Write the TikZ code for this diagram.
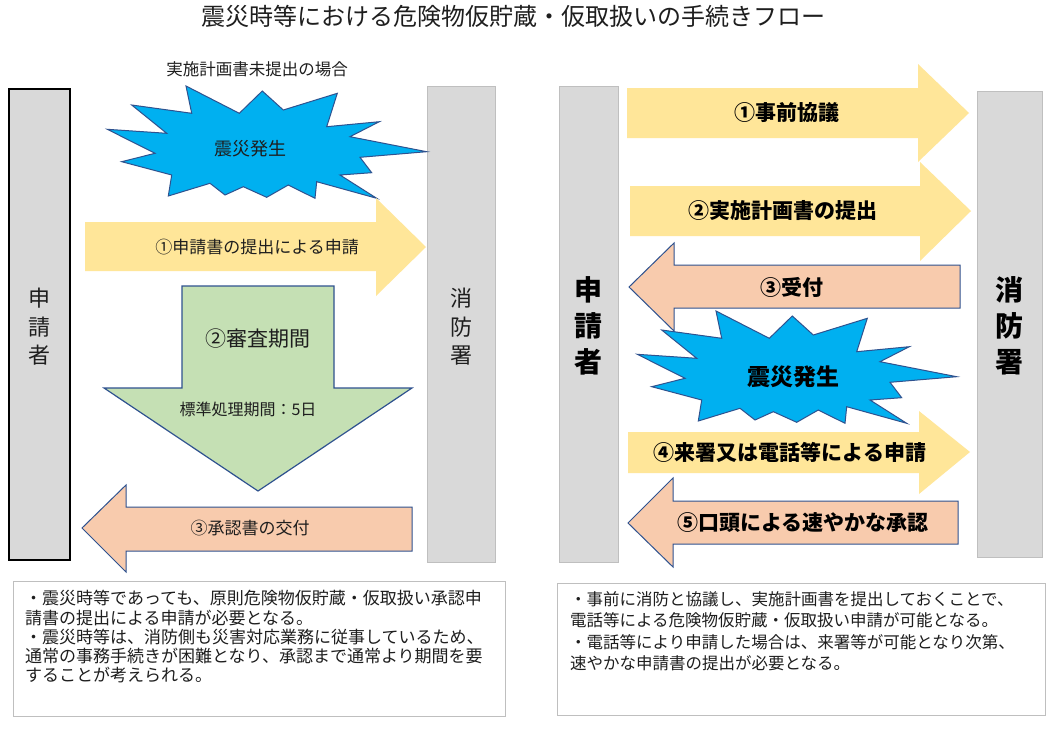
\documentclass[tikz,border=0pt]{standalone}
\usepackage{fontspec}
\newfontfamily\jp{Noto Sans CJK JP}
\definecolor{boxgray}{RGB}{217,217,217}
\definecolor{edgegray}{RGB}{191,191,191}
\definecolor{yel}{RGB}{255,230,153}
\definecolor{ora}{RGB}{248,203,173}
\definecolor{grn}{RGB}{197,224,180}
\definecolor{sky}{RGB}{0,176,240}
\definecolor{navy}{RGB}{47,82,143}
\definecolor{ink}{RGB}{30,30,30}
\begin{document}
\begin{tikzpicture}[x=1pt,y=-1pt,
  fs/.style={font=\jp\fontsize{#1}{#1}\selectfont, text=ink, inner sep=0pt},
  fsb/.style={font=\jp\bfseries\fontsize{#1}{#1}\selectfont, text=black, inner sep=0pt},
  pbox/.style={fill=boxgray, draw=edgegray, line width=1pt},
  yarrow/.style={fill=yel},
  oarrow/.style={fill=ora, draw=navy, line width=1pt, line join=miter},
  garrow/.style={fill=grn, draw=navy, line width=1.2pt, line join=miter},
  burststyle/.style={fill=sky, draw=navy, line width=1pt, line join=miter},
  notebox/.style={draw=edgegray, line width=1pt},
  noteline/.style={fs=#1, anchor=west},
  burst/.pic={
    \draw[burststyle] (186,86) -- (239.3,113.3) -- (262.3,91) -- (283.3,110) -- (337.3,93.3)
      -- (326.7,126.7) -- (379.3,121.7) -- (350,136.7) -- (426.7,151.7) -- (360,157.3)
      -- (371.7,172.7) -- (340,175) -- (376.7,198.3) -- (316.7,181.7) -- (315,198.3)
      -- (288.3,185) -- (266.7,197.3) -- (243.3,186.7) -- (225,195) -- (210,183.3)
      -- (168.3,196) -- (171.7,175) -- (121.7,161.7) -- (155,153.3) -- (107.3,129.3)
      -- (166.7,133.3) -- (131.7,105) -- (191.7,113.3) -- cycle;
  }
]
\useasboundingbox[fill=white] (0,0) rectangle (1049,736);

% title
\node[fs=24] (title) at (513,16) {震災時等における危険物仮貯蔵・仮取扱いの手続きフロー};

% ---------------- left panel ----------------
\draw[pbox, draw=black, line width=2pt] (9,89) rectangle (70,560);
\node[font=\jp\fontsize{22}{28.5}\selectfont, text=ink, align=center, inner sep=0pt] (lapp) at (39.5,327) {申\\請\\者};
\draw[pbox] (427,86) rectangle (495,562);
\node[font=\jp\fontsize{22}{28.5}\selectfont, text=ink, align=center, inner sep=0pt] (lfd) at (461,327) {消\\防\\署};

\node[fs=16.5] (lcase) at (257,69) {実施計画書未提出の場合};

\pic at (0,0) {burst};
\node[fs=18] (lquake) at (250,149) {震災発生};

\fill[yarrow] (85,222) -- (376,222) -- (376,198) -- (426,247) -- (376,296) -- (376,271) -- (85,271) -- cycle;
\node[fs=17] (la1) at (257,247) {①申請書の提出による申請};

\draw[garrow] (182,286) -- (334,286) -- (334,388) -- (412,388) -- (258,491) -- (104,388) -- (182,388) -- cycle;
\node[fs=21] (la2) at (258,339) {②審査期間};
\node[fs=16] (la2b) at (248,409) {標準処理期間：5日};

\draw[oarrow] (412,507) -- (126,507) -- (126,485) -- (82,528) -- (126,572) -- (126,551) -- (412,551) -- cycle;
\node[fs=17] (la3) at (250,528) {③承認書の交付};

\draw[notebox] (13,581) rectangle (505,716);
\node[noteline=17] (l1) at (25,598) {・震災時等であっても、原則危険物仮貯蔵・仮取扱い承認申};
\node[noteline=17] (l2) at (25,618) {請書の提出による申請が必要となる。};
\node[noteline=17] (l3) at (25,637) {・震災時等は、消防側も災害対応業務に従事しているため、};
\node[noteline=17] (l4) at (25,656) {通常の事務手続きが困難となり、承認まで通常より期間を要};
\node[noteline=17] (l5) at (25,675) {することが考えられる。};

% ---------------- right panel ----------------
\draw[pbox] (559,86) rectangle (618,562);
\node[font=\jp\bfseries\fontsize{28}{36}\selectfont, align=center, inner sep=0pt] (rapp) at (588.5,326) {申\\請\\者};
\draw[pbox] (977,91) rectangle (1042,557);
\node[font=\jp\bfseries\fontsize{28}{36}\selectfont, align=center, inner sep=0pt] (rfd) at (1009.5,326) {消\\防\\署};

\fill[yarrow] (627,88) -- (918,88) -- (918,64) -- (969,113) -- (918,162) -- (918,138) -- (627,138) -- cycle;
\node[fsb=21] (ra1) at (787,113) {①事前協議};

\fill[yarrow] (630,186) -- (920,186) -- (920,162) -- (971,211) -- (920,261) -- (920,236) -- (630,236) -- cycle;
\node[fsb=21] (ra2) at (783,211) {②実施計画書の提出};

\draw[oarrow] (960,265) -- (674,265) -- (674,243) -- (629,287) -- (674,331) -- (674,308) -- (960,308) -- cycle;
\node[fsb=21] (ra3) at (792,287) {③受付};

\pic at (530,225) {burst};
\node[fsb=23] (rquake) at (793,377) {震災発生};

\fill[yarrow] (628,432) -- (919,432) -- (919,411) -- (970,452) -- (919,494) -- (919,473) -- (628,473) -- cycle;
\node[fsb=21] (ra4) at (790,452) {④来署又は電話等による申請};

\draw[oarrow] (958,501) -- (673,501) -- (673,478) -- (628,523) -- (673,567) -- (673,544) -- (958,544) -- cycle;
\node[fsb=21] (ra5) at (803,523) {⑤口頭による速やかな承認};

\draw[notebox] (557,583) rectangle (1045,715);
\node[noteline=16.5] (r1) at (570,599) {・事前に消防と協議し、実施計画書を提出しておくことで、};
\node[noteline=16.5] (r2) at (570,620) {電話等による危険物仮貯蔵・仮取扱い申請が可能となる。};
\node[noteline=16.5] (r3) at (570,642) {・電話等により申請した場合は、来署等が可能となり次第、};
\node[noteline=16.5] (r4) at (570,663) {速やかな申請書の提出が必要となる。};
\end{tikzpicture}
\end{document}
